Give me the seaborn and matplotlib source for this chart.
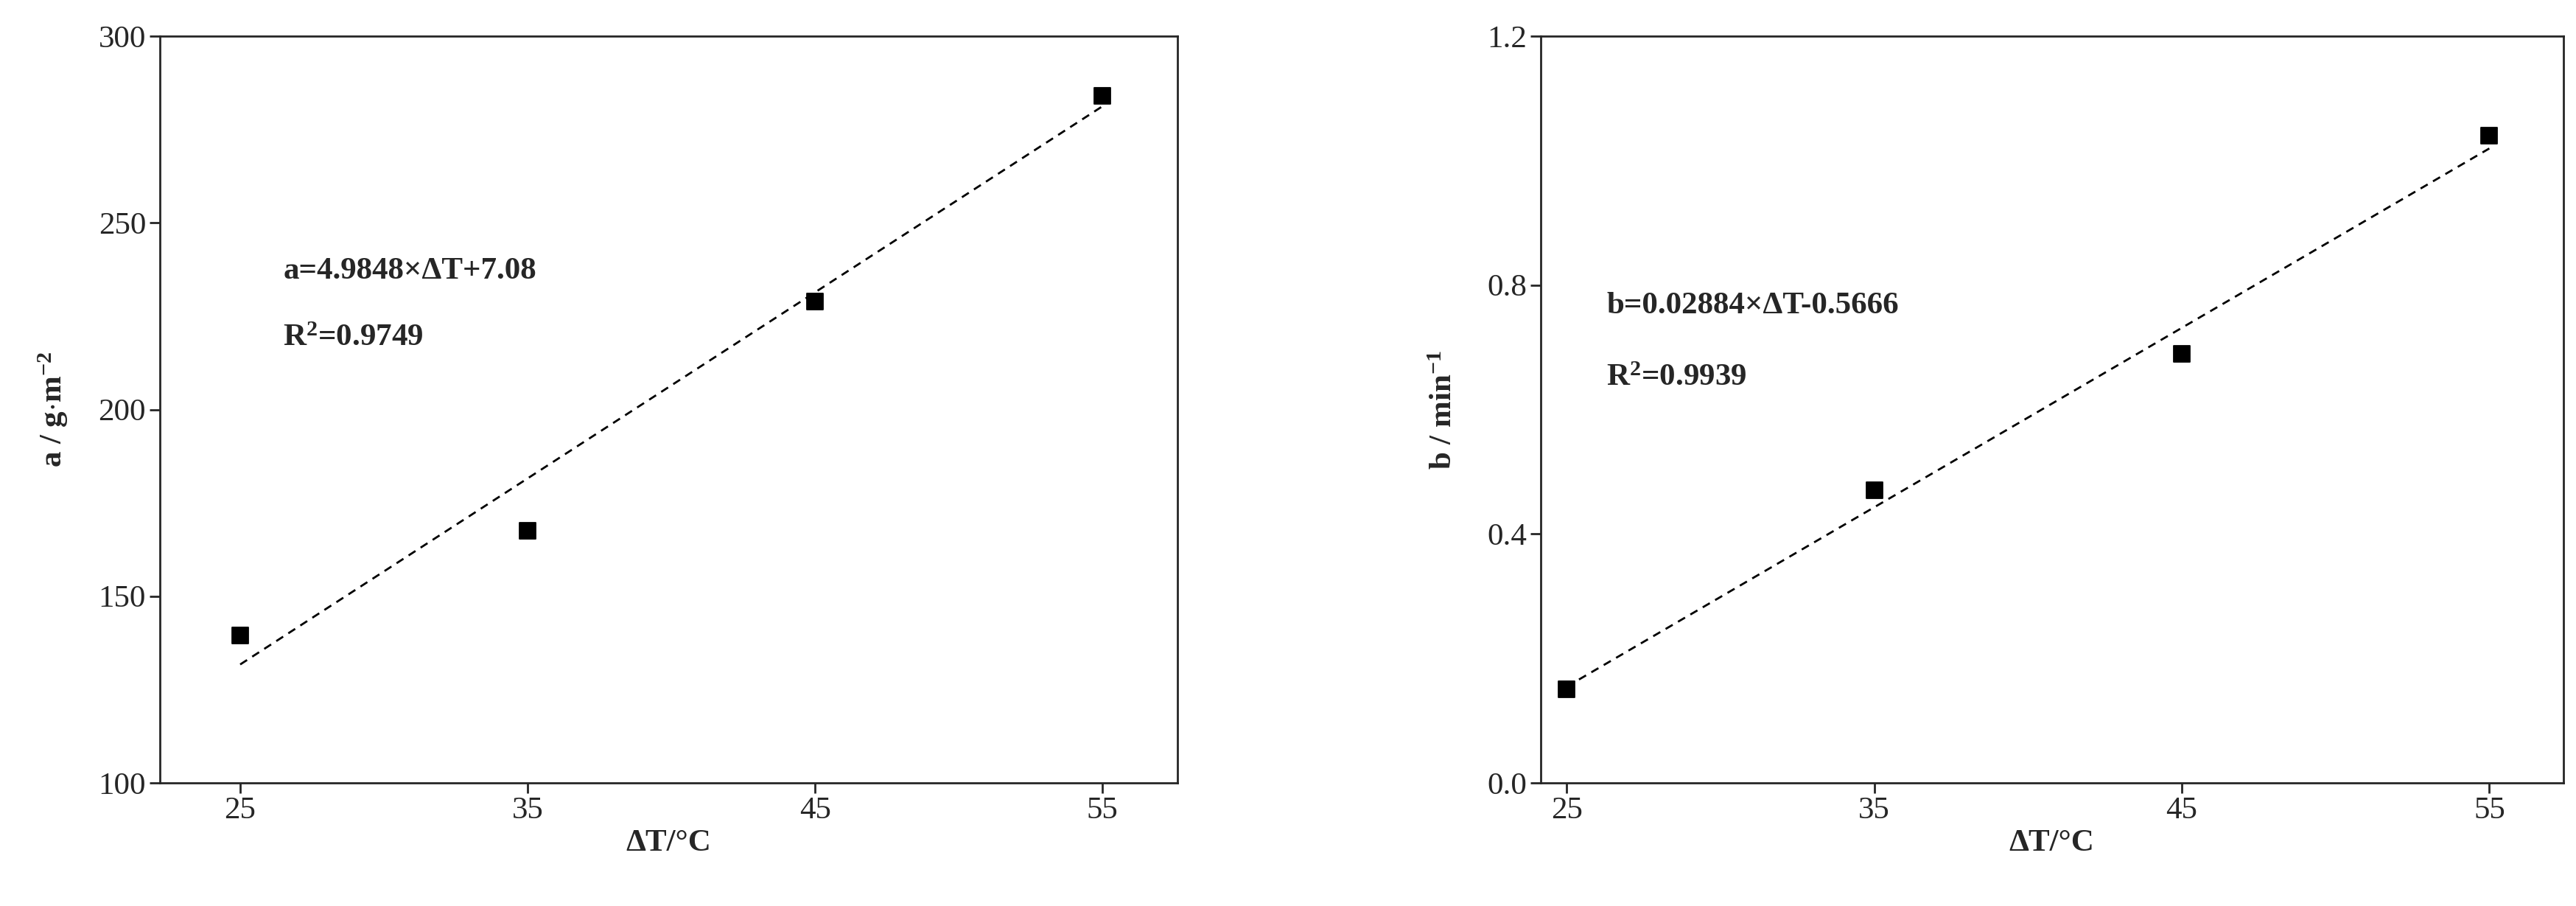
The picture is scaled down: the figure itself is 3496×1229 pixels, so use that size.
import matplotlib
matplotlib.use("Agg")
import matplotlib.pyplot as plt
import seaborn as sns
import numpy as np

dT = [25, 35, 45, 55]
a_vals = [139.5, 167.5, 229.0, 284.0]
b_vals = [0.15, 0.47, 0.69, 1.04]
a_fit = (4.9848, 7.08)
b_fit = (0.02884, -0.5666)

sns.set_style("ticks")
plt.rcParams['font.family'] = ['Liberation Serif', 'DejaVu Serif']
plt.rcParams['mathtext.fontset'] = 'custom'
plt.rcParams['mathtext.rm'] = 'Liberation Serif'
plt.rcParams['mathtext.bf'] = 'Liberation Serif:bold'
plt.rcParams['mathtext.it'] = 'Liberation Serif:italic'
plt.rcParams['mathtext.default'] = 'bf'

fig = plt.figure(figsize=(34.96, 12.29), dpi=100)
ax1 = fig.add_axes([0.062, 0.136, 0.395, 0.824])
ax2 = fig.add_axes([0.598, 0.136, 0.397, 0.824])

def panel(ax, y, fit, xlim, ylim, yticks, ylabel, eq, r2, tx, ty1, ty2, fmt):
    xl = np.array([25, 55])
    sns.lineplot(x=xl, y=fit[0]*xl+fit[1], ax=ax, color='black', linestyle=(0, (4, 3)), lw=2)
    sns.scatterplot(x=dT, y=y, ax=ax, marker='s', color='black', s=260, edgecolor='black')
    ax.set_xlim(*xlim); ax.set_ylim(*ylim)
    ax.set_xticks(dT); ax.set_yticks(yticks)
    ax.set_yticklabels([fmt.format(v) for v in yticks])
    ax.tick_params(labelsize=31, width=2, length=10, direction='out')
    for s in ax.spines.values():
        s.set_linewidth(2); s.set_visible(True)
    ax.set_xlabel('ΔT/°C', fontsize=31, fontweight='bold')
    ax.set_ylabel(ylabel, fontsize=31, fontweight='bold', labelpad=28)
    ax.text(tx, ty1, eq, fontsize=31, fontweight='bold', va='center')
    ax.text(tx, ty2, r2, fontsize=31, fontweight='bold', va='center')

panel(ax1, a_vals, a_fit, (22.2, 57.6), (100, 300), [100, 150, 200, 250, 300],
      r'a / g$\cdot$m$^{-2}$', 'a=4.9848×ΔT+7.08', r'R$^{2}$=0.9749', 26.5, 237, 219, '{:.0f}')
panel(ax2, b_vals, b_fit, (24.15, 57.4), (0, 1.2), [0.0, 0.4, 0.8, 1.2],
      r'b / min$^{-1}$', 'b=0.02884×ΔT-0.5666', r'R$^{2}$=0.9939', 26.3, 0.766, 0.65, '{:.1f}')

fig.savefig('out.png', dpi=100)
